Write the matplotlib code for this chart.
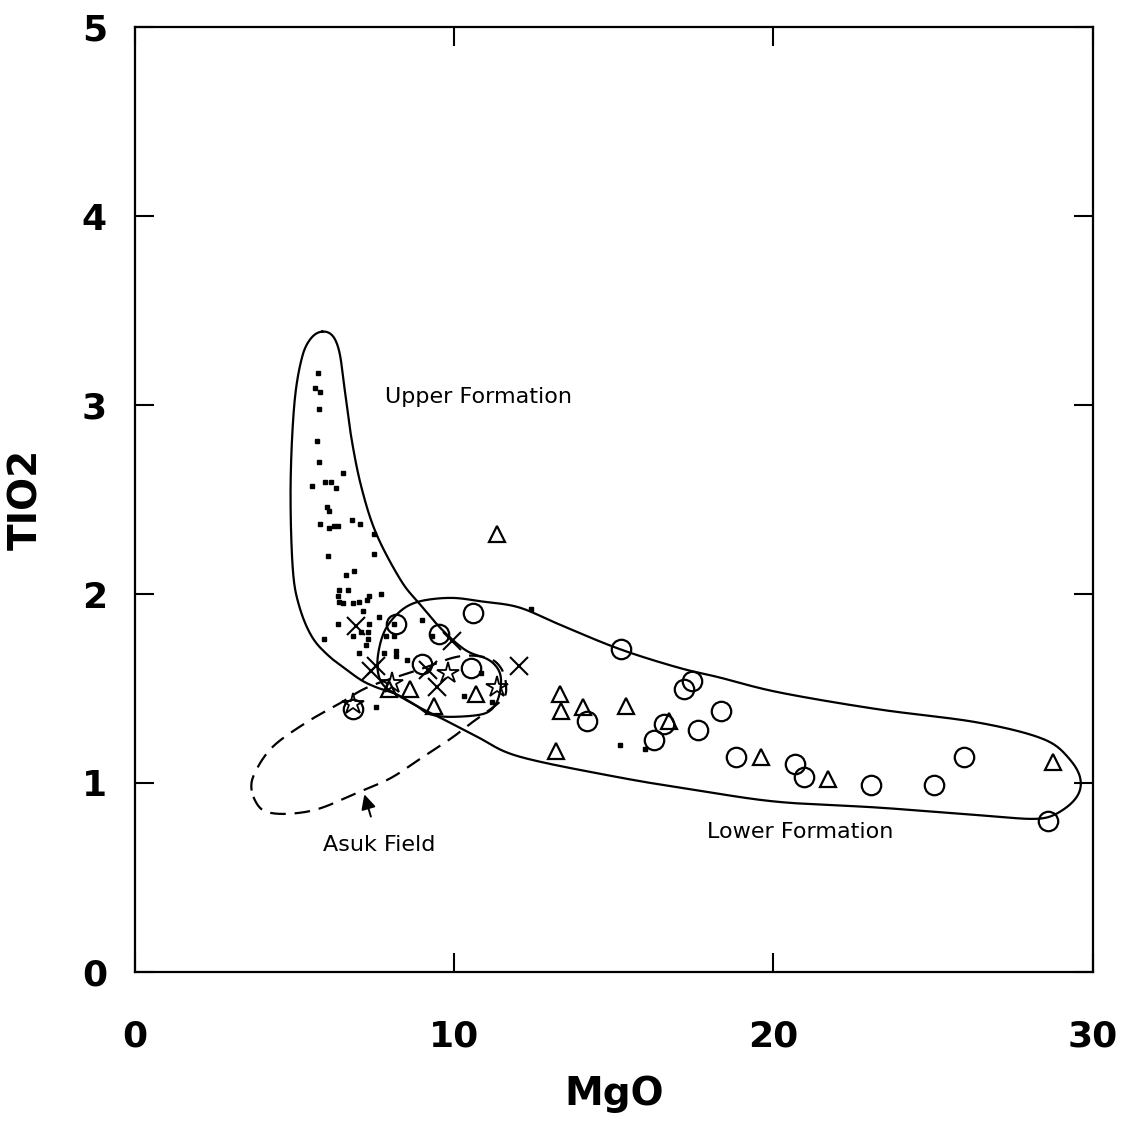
import numpy as np
import matplotlib.pyplot as plt

# Sample groups (MgO, TiO2)
upper_mgo = [5.73, 5.63, 5.81, 5.76, 5.71, 5.78, 6.51, 5.55, 5.97, 6.15, 6.30, 6.02, 6.09,
             5.81, 6.09, 6.25, 6.35, 6.80, 7.05, 7.50, 6.04, 7.50, 6.61, 6.88, 6.41, 6.69,
             6.35, 6.41, 6.51, 6.82, 7.03, 7.26, 7.34, 7.71, 7.14, 7.66, 6.35, 5.94, 6.82,
             7.09, 7.29, 7.34, 7.29, 7.24, 7.03, 7.81, 8.18, 8.18, 9.01, 9.32, 8.13, 7.86,
             8.13, 8.54, 7.55, 10.31, 10.83, 12.40, 15.21, 15.99, 11.19]
upper_tio2 = [3.17, 3.09, 3.07, 2.98, 2.81, 2.70, 2.64, 2.57, 2.59, 2.59, 2.56, 2.46, 2.44,
              2.37, 2.35, 2.36, 2.36, 2.39, 2.37, 2.32, 2.20, 2.21, 2.10, 2.12, 2.02, 2.02,
              1.99, 1.96, 1.95, 1.95, 1.96, 1.97, 1.99, 2.00, 1.91, 1.88, 1.84, 1.76, 1.78,
              1.80, 1.80, 1.84, 1.76, 1.73, 1.69, 1.69, 1.70, 1.67, 1.86, 1.78, 1.84, 1.78,
              1.78, 1.65, 1.40, 1.46, 1.58, 1.92, 1.20, 1.18, 1.43]

circle_mgo = [10.59, 8.19, 9.53, 9.00, 10.53, 6.84, 15.23, 17.45, 17.21, 18.35, 17.63,
              16.56, 16.27, 14.15, 18.83, 20.68, 20.96, 23.07, 25.02, 25.96, 28.59]
circle_tio2 = [1.90, 1.84, 1.79, 1.63, 1.61, 1.39, 1.71, 1.54, 1.50, 1.38, 1.28,
               1.31, 1.23, 1.33, 1.14, 1.10, 1.03, 0.99, 0.99, 1.14, 0.80]

tri_mgo = [11.34, 13.33, 13.36, 14.04, 15.38, 16.72, 13.18, 19.61, 21.72, 28.75,
           10.70, 9.38, 8.62, 7.96]
tri_tio2 = [2.32, 1.47, 1.38, 1.40, 1.41, 1.33, 1.17, 1.14, 1.02, 1.11,
            1.47, 1.41, 1.50, 1.50]

cross_mgo = [6.93, 7.40, 7.55, 9.95, 12.03, 9.47, 9.17]
cross_tio2 = [1.83, 1.59, 1.62, 1.75, 1.62, 1.51, 1.60]

star_mgo = [11.35, 9.82, 8.05, 6.85]
star_tio2 = [1.51, 1.58, 1.53, 1.42]

# Field outlines
upper_field_x = [5.87, 6.19, 6.41, 6.56, 6.78, 7.09, 7.56, 8.34, 8.91, 9.63, 10.38, 11.0,
                 11.31, 11.47, 11.41, 11.19, 10.78, 9.75, 9.13, 8.91, 8.19, 7.66, 7.13,
                 6.63, 6.09, 5.56, 5.16, 4.95, 4.88, 5.00, 5.25, 5.55]
upper_field_y = [3.39, 3.37, 3.28, 3.10, 2.83, 2.57, 2.32, 2.07, 1.95, 1.81, 1.70, 1.66,
                 1.62, 1.56, 1.46, 1.39, 1.36, 1.35, 1.37, 1.40, 1.47, 1.50, 1.54,
                 1.60, 1.67, 1.77, 1.93, 2.13, 2.57, 3.01, 3.26, 3.36]

lower_field_x = [7.59, 7.72, 8.03, 8.69, 9.84, 10.88, 12.03, 13.28, 15.16, 17.03, 18.28,
                 20.16, 23.28, 26.41, 28.5, 29.31, 29.63, 29.53, 29.0, 28.28, 26.41,
                 23.28, 20.16, 17.66, 15.16, 12.03, 10.78, 9.75, 8.91, 8.19, 7.75]
lower_field_y = [1.62, 1.76, 1.86, 1.95, 1.98, 1.96, 1.93, 1.84, 1.71, 1.61, 1.56,
                 1.48, 1.39, 1.32, 1.23, 1.12, 1.02, 0.93, 0.85, 0.81, 0.83,
                 0.87, 0.90, 0.96, 1.03, 1.14, 1.24, 1.33, 1.40, 1.47, 1.52]

asuk_x = [3.66, 3.75, 4.31, 5.37, 6.41, 7.34, 8.91, 10.16, 11.09, 11.5, 11.63, 11.5,
          10.56, 9.94, 9.13, 8.06, 7.13, 5.88, 5.05, 4.31, 3.91]
asuk_y = [0.96, 1.05, 1.19, 1.32, 1.42, 1.51, 1.60, 1.67, 1.66, 1.60, 1.51, 1.44,
          1.32, 1.24, 1.15, 1.03, 0.96, 0.87, 0.84, 0.84, 0.87]


def smooth_closed(x, y, n=20, win=9):
    # closed Catmull-Rom curve, resampled by arc length and lightly smoothed
    # in display-like units (x range 30, y range 5 on a square axes)
    p = np.column_stack([np.asarray(x) / 30.0, np.asarray(y) / 5.0])
    m = len(p)
    out = []
    for i in range(m):
        p0, p1, p2, p3 = p[i - 1], p[i], p[(i + 1) % m], p[(i + 2) % m]
        t = np.linspace(0, 1, n, endpoint=False)[:, None]
        seg = 0.5 * ((2 * p1) + (-p0 + p2) * t + (2 * p0 - 5 * p1 + 4 * p2 - p3) * t ** 2
                     + (-p0 + 3 * p1 - 3 * p2 + p3) * t ** 3)
        out.append(seg)
    c = np.vstack(out)
    c = np.vstack([c, c[:1]])
    d = np.r_[0, np.cumsum(np.hypot(*np.diff(c, axis=0).T))]
    s = np.linspace(0, d[-1], 800, endpoint=False)
    r = np.column_stack([np.interp(s, d, c[:, 0]), np.interp(s, d, c[:, 1])])
    k = np.ones(win) / win
    h = win // 2
    rr = np.vstack([r[-h:], r, r[:h]])
    sm = np.column_stack([np.convolve(rr[:, j], k, mode='valid') for j in range(2)])
    sm = np.vstack([sm, sm[:1]])
    return sm[:, 0] * 30.0, sm[:, 1] * 5.0


fig = plt.figure(figsize=(11.23, 11.25), dpi=100)
ax = fig.add_axes([0.120, 0.136, 0.853, 0.840])

for fx, fy, ls in [(upper_field_x, upper_field_y, '-'),
                   (lower_field_x, lower_field_y, '-'),
                   (asuk_x, asuk_y, (0, (7, 4)))]:
    sx, sy = smooth_closed(fx, fy)
    ax.plot(sx, sy, color='black', lw=1.6, ls=ls)

ax.plot(upper_mgo, upper_tio2, 's', ms=3.5, color='black', ls='none')
ax.plot(circle_mgo, circle_tio2, 'o', ms=14, mfc='none', mec='black', mew=1.6, ls='none')
ax.plot(tri_mgo, tri_tio2, '^', ms=12, mfc='none', mec='black', mew=1.6, ls='none')
ax.plot(cross_mgo, cross_tio2, 'x', ms=13, color='black', mew=1.5, ls='none')
ax.plot(star_mgo, star_tio2, '*', ms=16, mfc='none', mec='black', mew=1.3, ls='none')

txt = dict(fontsize=16, color='black', ha='center', va='center')
ax.text(10.78, 3.04, 'Upper Formation', **txt)
ax.text(20.84, 0.74, 'Lower Formation', **txt)
ax.annotate('Asuk Field', xy=(7.19, 0.94), xytext=(7.66, 0.67),
            arrowprops=dict(arrowstyle='-|>', color='black', lw=1.4, mutation_scale=22,
                            shrinkA=12, shrinkB=0), **txt)

ax.set_xlim(0, 30)
ax.set_ylim(0, 5)
ax.set_xticks([0, 10, 20, 30])
ax.set_yticks([0, 1, 2, 3, 4, 5])
ax.tick_params(direction='in', length=14, width=1.5, top=True, right=True,
               labelsize=26, pad=20)
ax.tick_params(axis='x', pad=34)
for lab in ax.get_xticklabels() + ax.get_yticklabels():
    lab.set_fontweight('heavy')
for s in ax.spines.values():
    s.set_linewidth(1.6)

ax.set_xlabel('MgO', fontsize=28, fontweight='heavy', labelpad=16)
ax.set_ylabel('TIO2', fontsize=28, fontweight='heavy', labelpad=26)

fig.savefig('out.png', dpi=100, facecolor='white')
